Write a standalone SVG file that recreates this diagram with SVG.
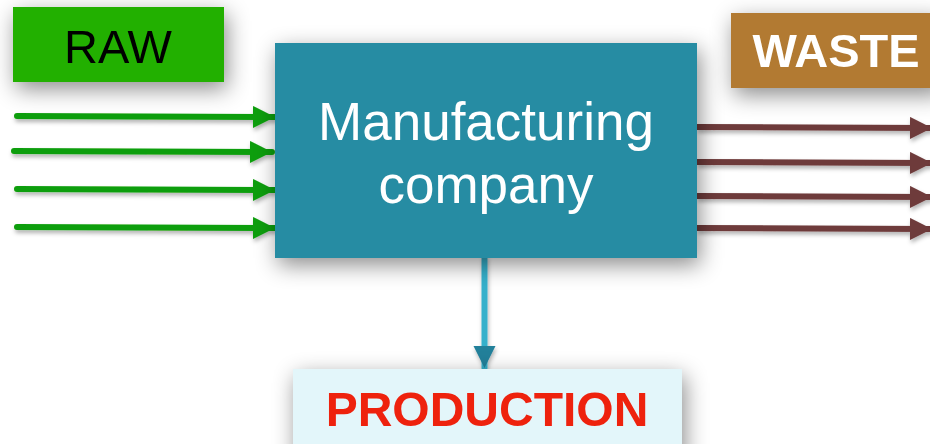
<svg xmlns="http://www.w3.org/2000/svg" width="930" height="444" viewBox="0 0 930 444">
<style>
.lbl{font-family:"Liberation Sans",Arial,sans-serif;text-anchor:middle}
.g{stroke:#0d9e0a;stroke-width:6;stroke-linecap:round;fill:none}
.b{stroke:#6e3a3a;stroke-width:6;fill:none}
</style>
<defs>
<filter id="sh" x="-30%" y="-30%" width="160%" height="180%">
<feDropShadow dx="3" dy="7" stdDeviation="11" flood-color="#000" flood-opacity="0.45"/>
</filter>
<filter id="ash" x="-10%" y="-50%" width="120%" height="250%">
<feDropShadow dx="1" dy="3" stdDeviation="2" flood-color="#000" flood-opacity="0.3"/>
</filter>
<marker id="mg" markerUnits="userSpaceOnUse" markerWidth="24" markerHeight="24" refX="22" refY="11" orient="auto">
<path d="M0,0 L22,11 L0,22 Z" fill="#0d9e0a"/>
</marker>
<marker id="mb" markerUnits="userSpaceOnUse" markerWidth="24" markerHeight="24" refX="22" refY="11" orient="auto">
<path d="M0,0 L22,11 L0,22 Z" fill="#6e3a3a"/>
</marker>
<marker id="mp" markerUnits="userSpaceOnUse" markerWidth="24" markerHeight="24" refX="22" refY="11" orient="auto">
<path d="M0,0 L22,11 L0,22 Z" fill="#23809a"/>
</marker>
</defs>
<rect width="930" height="444" fill="#ffffff"/>
<g id="connectors" filter="url(#ash)">
<line class="g" x1="17" y1="116" x2="275" y2="117" marker-end="url(#mg)"/>
<line class="g" x1="14" y1="151" x2="272" y2="152" marker-end="url(#mg)"/>
<line class="g" x1="17" y1="189" x2="275" y2="190" marker-end="url(#mg)"/>
<line class="g" x1="17" y1="227" x2="275" y2="228" marker-end="url(#mg)"/>
<line class="b" x1="697" y1="127" x2="932" y2="128" marker-end="url(#mb)"/>
<line class="b" x1="697" y1="162" x2="932" y2="163" marker-end="url(#mb)"/>
<line class="b" x1="697" y1="196" x2="932" y2="197" marker-end="url(#mb)"/>
<line class="b" x1="697" y1="228" x2="932" y2="229" marker-end="url(#mb)"/>
<line x1="484.5" y1="258" x2="484.5" y2="368" stroke="#36b0cb" stroke-width="6" stroke-linecap="round" marker-end="url(#mp)"/>
</g>
<g id="raw" filter="url(#sh)">
<rect x="13" y="7" width="211" height="75" fill="#20b000"/>
<text class="lbl" x="118" y="63" font-size="47" fill="#000">RAW</text>
</g>
<g id="waste" filter="url(#sh)">
<rect x="731" y="13" width="210" height="75" fill="#b27a30"/>
<text class="lbl" x="836" y="67" font-size="47" font-weight="bold" fill="#fff">WASTE</text>
</g>
<g id="company" filter="url(#sh)">
<rect x="275" y="43" width="422" height="215" fill="#278ca3"/>
<text class="lbl" x="486" y="140" font-size="53" fill="#fff">Manufacturing</text>
<text class="lbl" x="486" y="203" font-size="53" fill="#fff">company</text>
</g>
<g id="production" filter="url(#sh)">
<rect x="293" y="369" width="389" height="90" fill="#e3f6fa"/>
<text class="lbl" x="487" y="426" font-size="48" font-weight="bold" fill="#ee2211">PRODUCTION</text>
</g>
</svg>
